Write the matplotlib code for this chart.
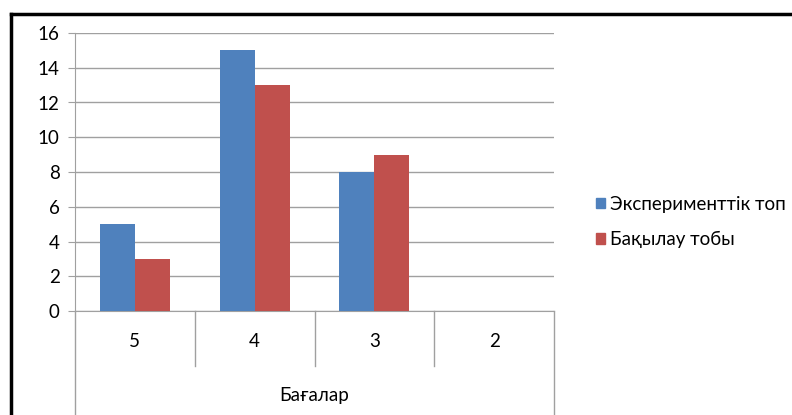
import numpy as np
import matplotlib
matplotlib.use("Agg")
import matplotlib.pyplot as plt
from matplotlib.lines import Line2D
from matplotlib.patches import Patch
from matplotlib.transforms import blended_transform_factory

plt.rcParams['font.family'] = ['Lato', 'DejaVu Sans']

categories = ['5', '4', '3', '2']
exp_group = [5, 15, 8, 0]
ctrl_group = [3, 13, 9, 0]
series_names = ['Эксперименттік топ', 'Бақылау тобы']
axis_title = 'Бағалар'

BLUE = '#4F81BD'
RED = '#C0504D'
GRID = '#A0A0A0'
FS = 13.5

W, H = 792, 415
fig = plt.figure(figsize=(W / 100, H / 100), dpi=100)
ax = fig.add_axes([75 / W, 1 - 311 / H, (554 - 75) / W, (311 - 33) / H])

x = np.arange(len(categories)) + 0.5
bw = 35 / 120
ax.bar(x - bw / 2, exp_group, bw, color=BLUE, zorder=3)
ax.bar(x + bw / 2, ctrl_group, bw, color=RED, zorder=3)

ax.set_xlim(0, len(categories))
ax.set_ylim(0, 16)
ax.set_yticks(range(0, 17, 2))
ax.yaxis.grid(True, color=GRID, lw=1, zorder=0)
ax.tick_params(axis='y', length=5, color=GRID, pad=6, labelsize=FS)
ax.set_xticks([])
for s in ('top', 'right'):
    ax.spines[s].set_visible(False)
for s in ('left', 'bottom'):
    ax.spines[s].set_color(GRID)

# two-level category axis underneath
tr = blended_transform_factory(ax.transData, ax.transAxes)
ph = 311 - 33
for i in range(len(categories) + 1):
    low = -(415 - 311) / ph if i in (0, len(categories)) else -(366 - 311) / ph
    ax.plot([i, i], [0, low], color=GRID, lw=1, transform=tr, clip_on=False)
for xi, lab in zip(x, categories):
    ax.text(xi, -(341 - 311) / ph, lab, transform=tr, ha='center', va='center', fontsize=FS)
ax.text(len(categories) / 2, -(395 - 311) / ph, axis_title, transform=tr,
        ha='center', va='center', fontsize=FS)

handles = [Patch(color=BLUE), Patch(color=RED)]
fig.legend(handles, series_names, loc='center left', bbox_to_anchor=(579 / W, 1 - 222 / H),
           frameon=False, fontsize=FS, handlelength=0.5, handleheight=0.5,
           handletextpad=0.25, labelspacing=1.0)

# outer frame lines
fig.add_artist(Line2D([11 / W, 1], [1 - 14 / H, 1 - 14 / H], color='black', lw=2.5,
                      transform=fig.transFigure))
fig.add_artist(Line2D([11 / W, 11 / W], [0, 1 - 14 / H], color='black', lw=2.5,
                      transform=fig.transFigure))

fig.savefig('out.png', dpi=100)
